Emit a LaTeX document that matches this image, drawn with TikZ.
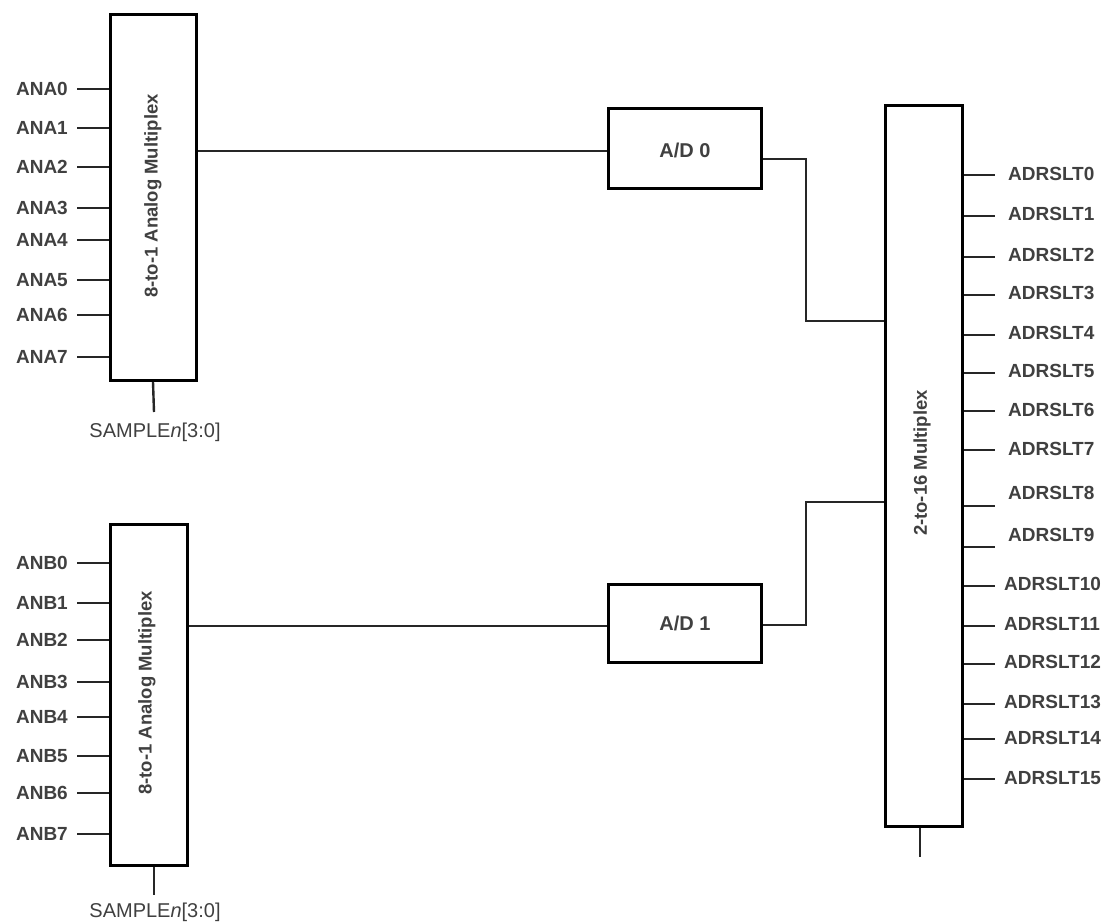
\documentclass[tikz,border=0pt]{standalone}
\usepackage{fontspec}
\setmainfont{Liberation Sans}
\begin{document}
\begin{tikzpicture}[x=1pt,y=-1pt,
  blk/.style={draw=black,line width=3pt,fill=white,inner sep=0pt},
  wire/.style={draw=black!85,line width=2.4pt},
  pinlab/.style={font=\bfseries\fontsize{19}{21}\selectfont,text=black!75,inner sep=0pt},
  smplab/.style={font=\fontsize{20}{22}\selectfont,text=black!75,inner sep=0pt},
  blklab/.style={font=\bfseries\fontsize{18.5}{20}\selectfont,text=black!75,inner sep=0pt},
  ]
\useasboundingbox (0,0) rectangle (1113,921);
% blocks
\node[blk,minimum width=86pt,minimum height=366pt] (muxA) at (153,197.5) {};
\node[blk,minimum width=77pt,minimum height=341pt] (muxB) at (148.5,694.5) {};
\node[blk,minimum width=153pt,minimum height=80pt] (ad0) at (684.5,148) {};
\node[blk,minimum width=153pt,minimum height=78pt] (ad1) at (684.5,623) {};
\node[blk,minimum width=77pt,minimum height=721pt] (mux16) at (923.5,465.5) {};
% block texts
\node[blklab,rotate=90] (tA) at (153,196) {8-to-1 Analog Multiplex};
\node[blklab,rotate=90] (tB) at (147,693) {8-to-1 Analog Multiplex};
\node[blklab,font=\bfseries\fontsize{20}{22}\selectfont] (t0) at (685,150) {A/D 0};
\node[blklab,font=\bfseries\fontsize{20}{22}\selectfont] (t1) at (685,623) {A/D 1};
\node[blklab,rotate=90] (t16) at (922,463) {2-to-16 Multiplex};
% inputs A
\foreach \i/\y in {0/89,1/128,2/167,3/208,4/240,5/280,6/315,7/357}{
  \node[pinlab,anchor=east] (ana\i) at (68,\y) {ANA\i};
  \draw[wire] (ana\i.east) ++(9,0) coordinate (pa\i) -- (pa\i -| muxA.west);
}
% inputs B
\foreach \i/\y in {0/563,1/603,2/640,3/682,4/717,5/756,6/793,7/834}{
  \node[pinlab,anchor=east] (anb\i) at (68,\y) {ANB\i};
  \draw[wire] (anb\i.east) ++(9,0) coordinate (pb\i) -- (pb\i -| muxB.west);
}
% sample lines
\node[smplab] (sa) at (155,432) {SAMPLE\textit{n}[3:0]};
\draw[wire] (muxA.south) -- (154,412);
\node[smplab] (sb) at (155,912) {SAMPLE\textit{n}[3:0]};
\draw[wire] (muxB.south -| 154,0) -- (154,895);
% mux to A/D
\draw[wire] (ad0.west |- 0,151) -- (muxA.east |- 0,151);
\draw[wire] (ad1.west |- 0,626) -- (muxB.east |- 0,626);
% A/D to mux16
\coordinate (j0) at (806,159);
\coordinate (j1) at (806,502);
\draw[wire] (ad0.east |- j0) -- (j0) |- (mux16.west |- 0,321);
\draw[wire] (ad1.east |- 0,625) -| (j1) -- (mux16.west |- j1);
% outputs
\foreach \i/\y/\ly/\lx in {0/175/174/1008,1/216/214/1008,2/257/255/1008,3/295/293/1008,
  4/335/333/1008,5/373/371/1008,6/411/410/1008,7/450/449/1008,8/506/493/1008,9/547/535/1008,
  10/586/584/1004,11/626/624/1004,12/664/662/1004,13/704/702/1004,14/739/738/1004,15/779/778/1004}{
  \node[pinlab,anchor=west] (ad\i lab) at (\lx,\ly) {ADRSLT\i};
  \coordinate (po\i) at (995,\y);
  \draw[wire] (mux16.east |- po\i) -- (po\i);
}
\draw[wire] (mux16.south -| 920,0) -- (920,857);
\end{tikzpicture}
\end{document}
